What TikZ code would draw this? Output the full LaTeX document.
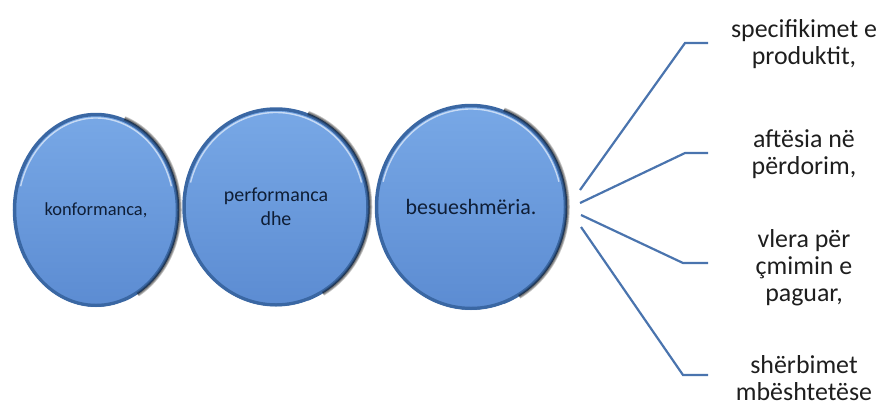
\documentclass[tikz,border=0pt]{standalone}
\usepackage{fontspec}
\setmainfont{Carlito}
\usetikzlibrary{shapes.geometric}
\definecolor{fillTop}{HTML}{78A8E6}
\definecolor{fillBot}{HTML}{5C8CD2}
\definecolor{rim}{HTML}{3A67A3}
\definecolor{linkBlue}{HTML}{4A74AE}
\definecolor{navy}{HTML}{0F1E36}
\definecolor{labelGray}{HTML}{1E1E1E}
\tikzset{
  bubble/.style={ellipse, inner sep=0pt, draw=rim, line width=3.5bp,
    top color=fillTop, bottom color=fillBot, text=navy, align=center},
  hilite/.style={draw=white, opacity=.6, line width=1.4bp},
  lowlite/.style={draw=white, opacity=.8, line width=1.6bp},
  edgeshade/.style={draw=black, line width=#1, opacity=.22},
  link/.style={draw=linkBlue, line width=2.2bp},
  label/.style={text=labelGray, align=center,
    font=\fontsize{26}{27}\selectfont},
}
\begin{document}
\begin{tikzpicture}[x=1bp, y=-1bp]
\useasboundingbox (0,0) rectangle (879,403);

% the three bubbles
\node[bubble, minimum width=163bp, minimum height=191bp,
      font=\fontsize{18.5}{21}\selectfont] (b1) at (96,210) {konformanca,};
\node[bubble, minimum width=184bp, minimum height=196bp,
      font=\fontsize{20}{24}\selectfont] (b2) at (276,207) {performanca\\dhe};
\node[bubble, minimum width=189bp, minimum height=203bp,
      font=\fontsize{22}{26}\selectfont] (b3) at (471,207) {besueshmëria.};

% dark shading along the right-hand outer edge
\foreach \n/\a/\b in {b1/83.5/97.5, b2/94/100, b3/96.5/103.5}
  \foreach \w in {1.5bp,3bp,4.5bp}
    \draw[edgeshade=\w] (\n.center) ++(-70:{\a} and {\b})
      arc[start angle=-70, end angle=60, x radius=\a, y radius=\b];

% glossy highlight along the upper inner rim, light edge below
\foreach \n/\a/\b in {b1/78/92, b2/88.5/94.5, b3/91/98}
  \draw[hilite] (\n.center) ++(195:{\a} and {\b})
    arc[start angle=195, end angle=345, x radius=\a, y radius=\b];
\foreach \n/\a/\b in {b1/84/98, b2/94.5/100.5, b3/97/104}
  \draw[lowlite] (\n.center) ++(70:{\a} and {\b})
    arc[start angle=70, end angle=150, x radius=\a, y radius=\b];

% fan of connectors
\coordinate (s1) at (580,190); \coordinate (e1) at (685,43);  \coordinate (f1) at (708,43);
\coordinate (s2) at (580,203); \coordinate (e2) at (685,153); \coordinate (f2) at (708,153);
\coordinate (s3) at (581,215); \coordinate (e3) at (683,263); \coordinate (f3) at (708,263);
\coordinate (s4) at (581,227); \coordinate (e4) at (683,375); \coordinate (f4) at (708,375);
\foreach \i in {1,...,4}
  \draw[link] (s\i) -- (e\i) -- (f\i);

% labels
\node[label] (t1) at (804,44)  {specifikimet e\\produktit,};
\node[label] (t2) at (804,154) {aftësia në\\përdorim,};
\node[label] (t3) at (804,268) {vlera për\\çmimin e\\paguar,};
\node[label] (t4) at (804,378) {shërbimet\\mbështetëse};
\end{tikzpicture}
\end{document}
